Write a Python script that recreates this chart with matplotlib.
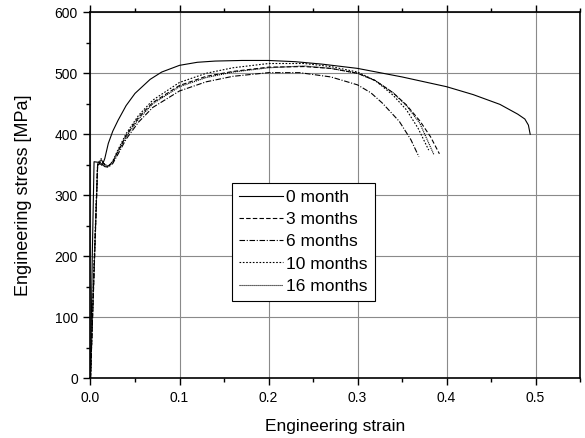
import matplotlib
matplotlib.use("Agg")
import matplotlib.pyplot as plt
from matplotlib.ticker import MultipleLocator

plt.rcParams['font.family'] = ['Liberation Sans', 'DejaVu Sans']

labels = ["0 month", "3 months", "6 months", "10 months", "16 months"]

strain_0 = [0, 0.002, 0.004, 0.009, 0.013, 0.016, 0.02, 0.025, 0.031, 0.04, 0.05, 0.067,
            0.08, 0.1, 0.12, 0.14, 0.17, 0.2, 0.23, 0.26, 0.3, 0.35, 0.4, 0.43, 0.46,
            0.48, 0.488, 0.492, 0.494]
stress_0 = [0, 200, 355, 354, 349, 360, 385, 405, 423, 447, 467, 490,
            502, 513, 518, 520, 521, 521, 519, 515, 508, 494, 478, 465, 449,
            433, 425, 415, 400]

strain_3 = [0, 0.004, 0.008, 0.012, 0.016, 0.02, 0.025, 0.03, 0.04, 0.054, 0.07, 0.1,
            0.13, 0.16, 0.2, 0.24, 0.27, 0.3, 0.32, 0.34, 0.355, 0.37, 0.382, 0.392]
stress_3 = [0, 170, 348, 356, 350, 348, 355, 370, 398, 428, 452, 480,
            495, 503, 510, 511, 508, 500, 488, 468, 448, 422, 396, 368]

strain_6 = [0, 0.004, 0.008, 0.012, 0.016, 0.02, 0.025, 0.03, 0.04, 0.054, 0.07, 0.1,
            0.13, 0.16, 0.2, 0.235, 0.27, 0.3, 0.315, 0.328, 0.347, 0.36, 0.369]
stress_6 = [0, 180, 350, 352, 347, 346, 352, 365, 392, 420, 444, 471,
            486, 495, 501, 501, 494, 481, 468, 451, 421, 391, 363]

strain_10 = [0, 0.004, 0.008, 0.012, 0.016, 0.02, 0.025, 0.03, 0.04, 0.054, 0.07, 0.1,
             0.13, 0.16, 0.2, 0.24, 0.27, 0.3, 0.32, 0.34, 0.355, 0.368, 0.38]
stress_10 = [0, 190, 352, 360, 349, 347, 356, 372, 401, 431, 456, 485,
             500, 509, 516, 516, 511, 502, 488, 464, 440, 410, 374]

strain_16 = [0, 0.004, 0.008, 0.012, 0.016, 0.02, 0.025, 0.03, 0.04, 0.054, 0.07, 0.1,
             0.13, 0.16, 0.2, 0.24, 0.27, 0.3, 0.32, 0.34, 0.355, 0.37, 0.386]
stress_16 = [0, 175, 349, 358, 351, 347, 354, 368, 396, 425, 450, 478,
             493, 502, 509, 512, 508, 500, 488, 468, 447, 418, 366]

x_ticks = [0.0, 0.1, 0.2, 0.3, 0.4, 0.5]
y_ticks = [0, 100, 200, 300, 400, 500, 600]

fig = plt.figure(figsize=(5.85, 4.38), dpi=100)
ax = fig.add_axes([0.1547, 0.1363, 0.9915 - 0.1547, 0.972 - 0.1363])

series = [
    (strain_0, stress_0, '-'),
    (strain_3, stress_3, (0, (4, 2))),
    (strain_6, stress_6, (0, (5, 1.5, 1, 1.5))),
    (strain_10, stress_10, (0, (1.5, 1.5))),
    (strain_16, stress_16, (0, (1, 0.8))),
]
for (xs, ys, ls), lab in zip(series, labels):
    ax.plot(xs, ys, color='black', lw=0.8, linestyle=ls, label=lab)

ax.set_xlim(0, 0.55)
ax.set_ylim(0, 600)
ax.set_xticks(x_ticks)
ax.set_xticklabels([f"{v:.1f}" for v in x_ticks])
ax.set_yticks(y_ticks)
ax.xaxis.set_minor_locator(MultipleLocator(0.05))
ax.yaxis.set_minor_locator(MultipleLocator(50))
ax.tick_params(which='major', direction='out', length=5, width=1, labelsize=10,
               top=True, right=False, colors='black', pad=4)
ax.tick_params(which='minor', direction='out', length=3, width=1, top=True, right=False)
ax.grid(True, which='major', color='#8a8a8a', lw=0.8)
ax.set_axisbelow(True)
for s in ax.spines.values():
    s.set_linewidth(1.2)

ax.set_xlabel("Engineering strain", fontsize=12.5, labelpad=10)
ax.set_ylabel("Engineering stress [MPa]", fontsize=13, labelpad=16)

leg = ax.legend(loc='upper left', bbox_to_anchor=(0.289, 0.534), fontsize=12.5,
                frameon=True, fancybox=False, edgecolor='black', framealpha=1,
                handlelength=2.5, handletextpad=0.2, borderpad=0.42, labelspacing=0.4,
                borderaxespad=0)
leg.get_frame().set_linewidth(0.8)

fig.savefig("out.png", dpi=100)
